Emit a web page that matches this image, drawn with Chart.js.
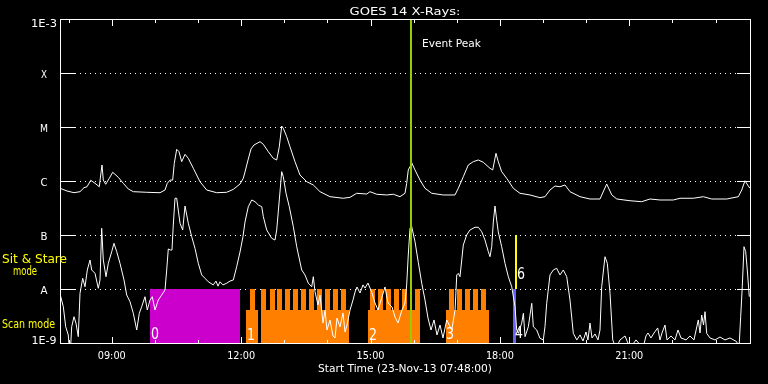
<!DOCTYPE html>
<html>
<head>
<meta charset="utf-8">
<style>
html,body{margin:0;padding:0;background:#000;}
canvas{display:block;}
</style>
<script src="https://cdn.jsdelivr.net/npm/chart.js@4.4.1/dist/chart.umd.min.js"></script>
</head>
<body>
<canvas id="c" width="768" height="384"></canvas>
<script>
// ---- Data (time in decimal hours UT on 23-Nov-13, flux in W/m^2) ----
const longTimes = [7.80,7.962,8.125,8.264,8.357,8.426,8.512,8.612,8.711,8.744,8.774,8.804,8.860,8.943,9.022,9.075,9.152,9.268,9.384,9.500,9.810,10.119,10.235,10.288,10.351,10.413,10.450,10.506,10.559,10.622,10.699,10.775,10.891,11.046,11.202,11.434,11.665,11.819,11.974,12.050,12.090,12.160,12.229,12.299,12.438,12.514,12.630,12.746,12.825,12.885,12.941,12.978,13.057,13.133,13.249,13.365,13.521,13.674,13.829,14.061,14.369,14.525,14.680,14.912,14.988,15.144,15.376,15.529,15.684,15.800,15.839,15.876,15.916,15.955,16.032,16.148,16.264,16.419,16.688,16.959,17.036,17.152,17.268,17.384,17.500,17.616,17.771,17.834,17.910,17.963,18.042,18.158,18.311,18.467,18.699,18.930,19.046,19.162,19.278,19.394,19.510,19.626,19.858,20.090,20.322,20.477,20.595,20.712,21.017,21.289,21.481,21.713,22.022,22.177,22.486,22.718,22.913,23.260,23.529,23.608,23.684,23.761,23.800];
const longFlux = [7.33e-7,6.53e-7,6.07e-7,6.34e-7,7.52e-7,7.83e-7,1.03e-6,9.06e-7,7.83e-7,1.29e-6,1.98e-6,1.04e-6,8.69e-7,1.12e-6,1.45e-6,1.33e-6,1.17e-6,9.06e-7,7.11e-7,6.34e-7,6.18e-7,6.07e-7,6.81e-7,9.06e-7,1.04e-6,1.04e-6,2.13e-6,3.86e-6,3.49e-6,2.28e-6,3.12e-6,2.63e-6,1.72e-6,9.70e-7,6.81e-7,6.07e-7,6.18e-7,7.0e-7,8.79e-7,1.12e-6,1.47e-6,2.45e-6,3.92e-6,4.65e-6,5.35e-6,4.79e-6,3.49e-6,2.63e-6,2.45e-6,4.31e-6,1.04e-5,9.46e-6,6.61e-6,4.31e-6,2.28e-6,1.29e-6,9.70e-7,8.43e-7,6.34e-7,5.12e-7,4.79e-7,4.99e-7,5.92e-7,5.74e-7,6.34e-7,5.68e-7,5.51e-7,5.68e-7,5.12e-7,5.92e-7,9.06e-7,1.60e-6,1.84e-6,2.18e-6,1.60e-6,1.04e-6,7.33e-7,5.92e-7,5.51e-7,5.51e-7,7.33e-7,1.20e-6,1.98e-6,2.28e-6,2.45e-6,2.22e-6,1.72e-6,1.60e-6,3.26e-6,2.28e-6,1.49e-6,1.12e-6,7.33e-7,5.92e-7,5.51e-7,4.91e-7,5.12e-7,6.81e-7,8.07e-7,7.83e-7,8.43e-7,6.34e-7,5.12e-7,4.64e-7,4.64e-7,8.79e-7,5.51e-7,4.64e-7,4.31e-7,4.14e-7,4.64e-7,4.45e-7,4.45e-7,4.79e-7,4.79e-7,5.12e-7,4.64e-7,4.64e-7,5.12e-7,6.81e-7,1.01e-6,8.07e-7,7.33e-7];

const shortTimes = [7.807,7.877,7.932,7.992,8.032,8.071,8.125,8.171,8.224,8.264,8.326,8.380,8.433,8.496,8.535,8.612,8.688,8.728,8.767,8.804,8.867,8.920,8.999,9.052,9.115,9.191,9.284,9.347,9.423,9.500,9.579,9.639,9.694,9.771,9.824,9.887,9.940,10.003,10.079,10.158,10.235,10.274,10.311,10.362,10.397,10.427,10.467,10.506,10.583,10.645,10.699,10.775,10.854,10.930,11.007,11.086,11.162,11.239,11.355,11.417,11.464,11.510,11.580,11.665,11.742,11.819,11.897,11.974,12.043,12.090,12.166,12.245,12.322,12.399,12.478,12.515,12.593,12.709,12.786,12.825,12.885,12.941,12.978,13.041,13.117,13.210,13.289,13.405,13.481,13.558,13.637,13.674,13.713,13.783,13.829,13.899,13.945,13.991,14.061,14.130,14.177,14.223,14.293,14.362,14.409,14.455,14.525,14.594,14.641,14.687,14.757,14.826,14.873,14.942,15.035,15.104,15.174,15.267,15.336,15.406,15.499,15.568,15.638,15.730,15.800,15.839,15.876,15.916,15.955,16.032,16.109,16.188,16.264,16.333,16.403,16.473,16.542,16.612,16.681,16.768,16.884,16.961,17.000,17.036,17.075,17.152,17.230,17.307,17.423,17.500,17.579,17.655,17.732,17.771,17.811,17.848,17.887,17.926,17.963,18.042,18.119,18.196,18.275,18.351,18.390,18.429,18.506,18.545,18.583,18.660,18.739,18.776,18.854,18.930,19.007,19.046,19.086,19.162,19.240,19.317,19.394,19.471,19.550,19.626,19.703,19.784,19.858,19.928,19.997,20.043,20.090,20.136,20.206,20.275,20.322,20.361,20.403,20.438,20.491,20.554,20.617,20.693,20.786,20.902,21.017,21.157,21.319,21.388,21.435,21.504,21.574,21.660,21.713,21.759,21.829,21.875,21.968,22.061,22.130,22.200,22.316,22.409,22.501,22.601,22.641,22.680,22.722,22.757,22.796,22.873,22.989,23.104,23.220,23.336,23.490,23.545,23.584,23.621,23.661,23.700,23.737,23.784];
const shortFlux = [7.74e-9,4.70e-9,2.00e-9,1.41e-9,5e-10,2.00e-9,3.07e-9,2.32e-9,1.31e-9,8.32e-9,1.58e-8,1.10e-8,2.25e-8,3.44e-8,2.25e-8,1.95e-8,1.03e-8,1.47e-8,1.33e-7,3.44e-8,1.69e-8,2.99e-8,4.91e-8,7.02e-8,4.91e-8,2.99e-8,1.47e-8,7.74e-9,5.82e-9,3.55e-9,1.74e-9,3.55e-9,4.70e-9,7.20e-9,4.08e-9,6.25e-9,7.20e-9,4.08e-9,6.25e-9,7.74e-9,9.57e-9,2.25e-8,5.51e-8,5.27e-8,5.27e-8,1.53e-7,4.79e-7,4.79e-7,1.65e-7,1.24e-7,3.44e-7,1.65e-7,9.31e-8,5.68e-8,2.99e-8,1.82e-8,1.58e-8,1.36e-8,1.19e-8,1.40e-8,1.13e-8,1.36e-8,1.19e-8,1.28e-8,1.40e-8,1.47e-8,2.59e-8,4.84e-8,9.31e-8,1.74e-7,3.34e-7,4.45e-7,4.14e-7,3.60e-7,3.34e-7,2.18e-7,1.24e-7,8.69e-8,8.07e-8,1.24e-7,4.45e-7,1.49e-6,1.20e-6,5.92e-7,3.34e-7,1.43e-7,6.07e-8,2.25e-8,1.82e-8,1.28e-8,1.10e-8,1.69e-8,8.91e-9,5.06e-9,7.74e-9,2.34e-9,4.08e-9,1.74e-9,2.67e-9,1.35e-9,1.24e-9,2.90e-9,1.98e-9,3.60e-9,1.60e-9,2.15e-9,4.08e-9,6.25e-9,8.79e-9,1.09e-8,8.43e-9,1.19e-8,1.04e-8,1.29e-8,8.43e-9,5.51e-9,4.08e-9,7.11e-9,1.09e-8,5.51e-9,4.64e-9,3.03e-9,2.34e-9,4.08e-9,5.51e-9,1.19e-8,4.27e-8,1.33e-7,1.43e-7,7.52e-8,3.10e-8,1.28e-8,6.25e-9,2.90e-9,1.74e-9,2.67e-9,1.41e-9,2.15e-9,1.24e-9,2.67e-9,1.74e-9,4.08e-9,1.82e-8,1.95e-8,1.69e-8,6.53e-8,1.00e-7,1.24e-7,1.39e-7,1.39e-7,1.15e-7,8.07e-8,4.91e-8,3.96e-8,6.07e-8,1.74e-7,3.44e-7,1.90e-7,1.14e-7,6.07e-8,2.99e-8,1.69e-8,1.10e-8,4.70e-9,1.74e-9,1.51e-9,2.32e-9,3.55e-9,1.31e-9,2.00e-9,5.43e-9,2.00e-9,1.74e-9,1.22e-9,1.14e-9,2.00e-9,5.43e-9,1.82e-8,2.25e-8,2.42e-8,1.82e-8,2.25e-8,1.69e-8,6.25e-9,1.51e-9,1.14e-9,1.41e-9,1.09e-9,1.60e-9,1.14e-9,2.34e-9,1.24e-9,1.47e-9,1.14e-9,1.74e-9,1.10e-8,2.25e-8,3.96e-8,2.99e-8,8.32e-9,1.14e-9,8e-10,1.14e-9,1.35e-9,8e-10,1.14e-9,8e-10,1.35e-9,1.53e-9,1.24e-9,1.53e-9,1.90e-9,1.14e-9,1.53e-9,2.15e-9,1.14e-9,1.35e-9,1.14e-9,1.74e-9,1.24e-9,1.14e-9,1.35e-9,1.14e-9,2.67e-9,1.53e-9,3.30e-9,2.15e-9,3.80e-9,1.51e-9,1.24e-9,1.14e-9,1.29e-9,1.14e-9,1.24e-9,1.06e-9,8e-10,3.07e-9,1.10e-8,6.07e-8,4.91e-8,2.25e-8,7.20e-9];

// Instrument mode timeline: each level holds from its time until the next time
// (scan mode = low level, sit & stare = high level, 1e-9 = no block)
const scanTimes = [12.113,12.206,12.322,12.391,12.461,12.577,12.670,12.786,12.832,12.948,13.017,13.133,13.203,13.319,13.388,13.504,13.574,13.690,13.759,13.875,13.945,14.061,14.130,14.246,14.316,14.432,14.501,14.942,14.988,15.104,15.174,15.290,15.359,15.475,15.545,15.661,15.730,15.846,16.032,16.148,16.751,16.820,16.936,17.006,17.122,17.191,17.307,17.377,17.493,17.562,17.678,17.748];
const scanLevels = [4.08e-9,1e-8,4.08e-9,1e-9,1e-8,4.08e-9,1e-8,4.08e-9,1e-8,4.08e-9,1e-8,4.08e-9,1e-8,4.08e-9,1e-8,4.08e-9,1e-8,4.08e-9,1e-8,4.08e-9,1e-8,4.08e-9,1e-8,4.08e-9,1e-8,4.08e-9,1e-9,4.08e-9,1e-8,4.08e-9,1e-8,4.08e-9,1e-8,4.08e-9,1e-8,4.08e-9,1e-8,4.08e-9,1e-8,1e-9,4.08e-9,1e-8,4.08e-9,1e-8,4.08e-9,1e-8,4.08e-9,1e-8,4.08e-9,1e-8,4.08e-9,1e-9];
const sitStareTimes = [9.887, 11.974];
const sitStareLevels = [1e-8, 1e-8];
const eventPeakTime = 15.939;
const eventPeakRange = [1e-9, 1e-3];
const blueMarkTime = 18.339;
const blueMarkRange = [1e-9, 1e-8];
const yellowMarkTime = 18.374;
const yellowMarkRange = [1e-8, 1e-7];

// Axis ticks / labels
const yLevels = [1e-3, 1e-4, 1e-5, 1e-6, 1e-7, 1e-8, 1e-9];
const yLabels = ['1E-3', 'X', 'M', 'C', 'B', 'A', '1E-9'];
const xMajorTicks = [9, 12, 15, 18, 21];
const xMajorLabels = ['09:00', '12:00', '15:00', '18:00', '21:00'];
const xMinorTicks = [8, 10, 11, 13, 14, 16, 17, 19, 20, 22, 23];
const modeLabels = ['0', '1', '2', '3', '6', '4'];
const modeLabelTimes = [9.910, 12.136, 14.965, 16.751, 18.397, 18.351];
const modeLabelFlux = [1.21e-9, 1.14e-9, 1.14e-9, 1.19e-9, 1.56e-8, 1.26e-9];

// ---- helpers ----
const pts = (xs, ys) => xs.map((t, i) => ({ x: t, y: ys[i] }));
const vline = (t, r) => [{ x: t, y: r[0] }, { x: t, y: r[1] }];
// step profile with explicit vertical edges (level i holds on [t_i, t_{i+1}])
function stepPts(xs, ys) {
  const out = [];
  xs.forEach((t, i) => {
    if (i > 0) out.push({ x: t, y: ys[i - 1] });
    out.push({ x: t, y: ys[i] });
  });
  return out;
}

function drawLabel(ctx, str, x, baseline, font, color, align, width) {
  ctx.save();
  ctx.font = font;
  ctx.fillStyle = color;
  ctx.textAlign = 'left';
  ctx.textBaseline = 'alphabetic';
  const m = ctx.measureText(str).width;
  const sx = width ? width / m : 1;
  const w = m * sx;
  const left = align === 'center' ? x - w / 2 : x;
  ctx.translate(left, Math.round(baseline));
  ctx.scale(sx, 1);
  ctx.fillText(str, 0, 0);
  ctx.restore();
}

const FONT_L = '11px "DejaVu Sans", sans-serif';
const FONT_S = '10px "DejaVu Sans", sans-serif';
const FONT_Y = '12px "DejaVu Sans", sans-serif';
const FONT_D = '15px "DejaVu Sans", sans-serif';

const idlFrame = {
  id: 'idlFrame',
  beforeDatasetsDraw(chart) {
    const { ctx, chartArea: a, scales: { y } } = chart;
    ctx.save();
    ctx.strokeStyle = '#ffffff';
    ctx.lineWidth = 1;
    ctx.setLineDash([1, 4]);
    yLevels.forEach((v, i) => {
      if (i === 0 || i === yLevels.length - 1) return;
      const py = Math.round(y.getPixelForValue(v)) + 0.5;
      ctx.beginPath();
      ctx.moveTo(a.left + 15, py);
      ctx.lineTo(a.right - 13, py);
      ctx.stroke();
    });
    ctx.restore();
  },
  afterDatasetsDraw(chart) {
    const { ctx, chartArea: a, scales: { x, y } } = chart;
    ctx.save();
    ctx.strokeStyle = '#ffffff';
    ctx.lineWidth = 1;
    ctx.setLineDash([]);
    ctx.strokeRect(a.left + 0.5, a.top + 0.5, a.right - a.left, a.bottom - a.top);
    ctx.beginPath();
    yLevels.forEach((v, i) => {
      if (i === 0 || i === yLevels.length - 1) return;
      const py = Math.round(y.getPixelForValue(v)) + 0.5;
      ctx.moveTo(a.left, py); ctx.lineTo(a.left + 15, py);
      ctx.moveTo(a.right - 13, py); ctx.lineTo(a.right, py);
    });
    xMajorTicks.forEach(t => {
      const px = Math.round(x.getPixelForValue(t)) + 0.5;
      ctx.moveTo(px, a.bottom); ctx.lineTo(px, a.bottom - 6);
      ctx.moveTo(px, a.top); ctx.lineTo(px, a.top + 7);
    });
    xMinorTicks.forEach(t => {
      const px = Math.round(x.getPixelForValue(t)) + 0.5;
      ctx.moveTo(px, a.bottom); ctx.lineTo(px, a.bottom - 3);
      ctx.moveTo(px, a.top); ctx.lineTo(px, a.top + 4);
    });
    ctx.stroke();
    ctx.restore();

    // x tick labels
    xMajorTicks.forEach((t, i) => {
      drawLabel(ctx, xMajorLabels[i], x.getPixelForValue(t), 359, FONT_S, '#ffffff', 'center', 28);
    });
    // y tick labels
    const yW = [26, 6, 8, 7, 7, 7, 25];
    yLevels.forEach((v, i) => {
      let b = y.getPixelForValue(v) + 5;
      if (i === 0) b = 27;
      if (i === yLevels.length - 1) b = 344;
      drawLabel(ctx, yLabels[i], 44, b, FONT_S, '#ffffff', 'center', yW[i]);
    });
    // titles
    drawLabel(ctx, 'GOES 14 X-Rays:', 405, 15, FONT_L, '#ffffff', 'center', 111);
    drawLabel(ctx, 'Start Time (23-Nov-13 07:48:00)', 405, 372, FONT_S, '#ffffff', 'center', 174);
    drawLabel(ctx, 'Event Peak', x.getPixelForValue(eventPeakTime) + 11, 47, FONT_L, '#ffffff', 'left', 59);
    // mode labels on left
    drawLabel(ctx, 'Sit & Stare', 2, 263, FONT_Y, '#ffff00', 'left', 65);
    drawLabel(ctx, 'mode', 13, 275, FONT_Y, '#ffff00', 'left', 24);
    drawLabel(ctx, 'Scan mode', 2, 328, FONT_Y, '#ffff00', 'left', 53);
    // mode index digits
    modeLabels.forEach((s, i) => {
      drawLabel(ctx, s, x.getPixelForValue(modeLabelTimes[i]), y.getPixelForValue(modeLabelFlux[i]), FONT_D, '#ffffff', 'left', 8);
    });
  }
};

new Chart(document.getElementById('c'), {
  type: 'scatter',
  data: {
    datasets: [
      { data: vline(eventPeakTime, eventPeakRange), showLine: true, borderColor: '#99cc00', borderWidth: 2, pointRadius: 0, order: 0 },
      { data: vline(yellowMarkTime, yellowMarkRange), showLine: true, borderColor: '#ffff00', borderWidth: 2, pointRadius: 0, order: 0 },
      { data: pts(longTimes, longFlux), showLine: true, borderColor: '#ffffff', borderWidth: 1, pointRadius: 0, tension: 0, order: 1 },
      { data: pts(shortTimes, shortFlux), showLine: true, borderColor: '#ffffff', borderWidth: 1, pointRadius: 0, tension: 0, order: 1 },
      { data: vline(blueMarkTime, blueMarkRange), showLine: true, borderColor: '#6464ff', borderWidth: 3, pointRadius: 0, order: 2 },
      { data: pts(sitStareTimes, sitStareLevels), showLine: true, fill: 'start', backgroundColor: '#cc00cc', borderColor: 'rgba(0,0,0,0)', borderWidth: 0, pointRadius: 0, order: 3 },
      { data: stepPts(scanTimes, scanLevels), showLine: true, fill: 'start', backgroundColor: '#ff8000', borderColor: 'rgba(0,0,0,0)', borderWidth: 0, pointRadius: 0, order: 3 }
    ]
  },
  options: {
    responsive: false,
    maintainAspectRatio: false,
    devicePixelRatio: 1,
    animation: false,
    events: [],
    layout: { padding: { left: 60, top: 19, right: 18, bottom: 41 } },
    scales: {
      x: { type: 'linear', min: 7.8, max: 23.8, display: false },
      y: { type: 'logarithmic', min: 1e-9, max: 1e-3, display: false }
    },
    plugins: {
      legend: { display: false },
      tooltip: { enabled: false },
      filler: { propagate: false }
    }
  },
  plugins: [idlFrame]
});
</script>
</body>
</html>
